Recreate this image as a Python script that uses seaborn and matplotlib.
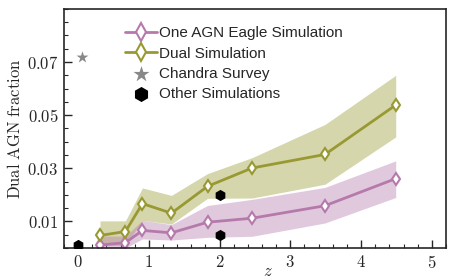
import matplotlib
matplotlib.use("Agg")
import matplotlib.pyplot as plt
import seaborn as sns
import pandas as pd
from matplotlib.ticker import MultipleLocator, FixedLocator

# data
z = [0.31, 0.67, 0.91, 1.32, 1.83, 2.46, 3.49, 4.49]
one_agn = [0.0011, 0.0020, 0.0066, 0.0057, 0.0097, 0.0112, 0.0159, 0.0261]
one_lo = [0.0, 0.0, 0.0034, 0.0030, 0.0040, 0.0044, 0.0094, 0.0190]
one_hi = [0.0045, 0.0045, 0.0104, 0.0088, 0.0160, 0.0183, 0.0228, 0.0328]
dual = [0.0047, 0.0062, 0.0167, 0.0131, 0.0232, 0.0301, 0.0352, 0.0538]
dual_lo = [0.0010, 0.0010, 0.0104, 0.0090, 0.0187, 0.0188, 0.0240, 0.0418]
dual_hi = [0.0102, 0.0102, 0.0226, 0.0198, 0.0280, 0.0340, 0.0465, 0.0650]
chandra_z = [0.06]
chandra_f = [0.0718]
other_z = [0.0, 2.0, 2.0]
other_f = [0.0012, 0.0198, 0.0047]
xticks = [0, 1, 2, 3, 4, 5]
yticks = [0.01, 0.03, 0.05, 0.07]

sns.set_style("ticks")
plt.rcParams['mathtext.fontset'] = 'cm'
plt.rcParams['font.family'] = ['Liberation Sans', 'DejaVu Sans']

pink = '#b57aab'
olive = '#999933'

fig = plt.figure(figsize=(4.5, 2.78), dpi=100)
ax = fig.add_axes([0.142, 0.108, 0.849, 0.860])

ax.fill_between(z, dual_lo, dual_hi, color=olive, alpha=0.4, lw=0)
ax.fill_between(z, one_lo, one_hi, color=pink, alpha=0.4, lw=0)

df1 = pd.DataFrame({'z': z, 'f': one_agn})
df2 = pd.DataFrame({'z': z, 'f': dual})
sns.lineplot(data=df1, x='z', y='f', ax=ax, color=pink, lw=2, marker='d',
             markersize=6.5, markerfacecolor='white', markeredgecolor=pink,
             markeredgewidth=1.5, label='One AGN Eagle Simulation')
sns.lineplot(data=df2, x='z', y='f', ax=ax, color=olive, lw=2, marker='d',
             markersize=6.5, markerfacecolor='white', markeredgecolor=olive,
             markeredgewidth=1.5, label='Dual Simulation')
sns.scatterplot(x=chandra_z, y=chandra_f, ax=ax, marker='*', s=80,
                color='#888888', linewidth=0, label='Chandra Survey', zorder=5)
sns.scatterplot(x=other_z, y=other_f, ax=ax, marker='h', s=65,
                color='black', linewidth=0, label='Other Simulations', zorder=5)

ax.set_xlim(-0.2, 5.2)
ax.set_ylim(0, 0.09)
ax.xaxis.set_major_locator(FixedLocator(xticks))
ax.xaxis.set_minor_locator(MultipleLocator(0.2))
ax.yaxis.set_major_locator(FixedLocator(yticks))
ax.yaxis.set_minor_locator(MultipleLocator(0.005))
ax.set_xticklabels([f'${t}$' for t in xticks], fontsize=12)
ax.set_yticklabels([f'${t:.2f}$' for t in yticks], fontsize=12)
ax.tick_params(which='major', direction='in', length=6, width=1, pad=4)
ax.tick_params(which='minor', direction='in', length=3, width=0.8)
ax.set_xlabel('$z$', fontsize=12)
ax.xaxis.set_label_coords(0.535, -0.068)
ax.set_ylabel(r'$\mathrm{Dual\ AGN\ fraction}$', fontsize=12, labelpad=3)
for s in ax.spines.values():
    s.set_linewidth(1.2)

leg = ax.legend(loc='upper left', bbox_to_anchor=(0.137, 0.965), frameon=False,
                fontsize=11, handlelength=2.1, handletextpad=0.1,
                labelspacing=0.4, borderaxespad=0.2, markerscale=1.35)

fig.savefig('out.png', dpi=100)
